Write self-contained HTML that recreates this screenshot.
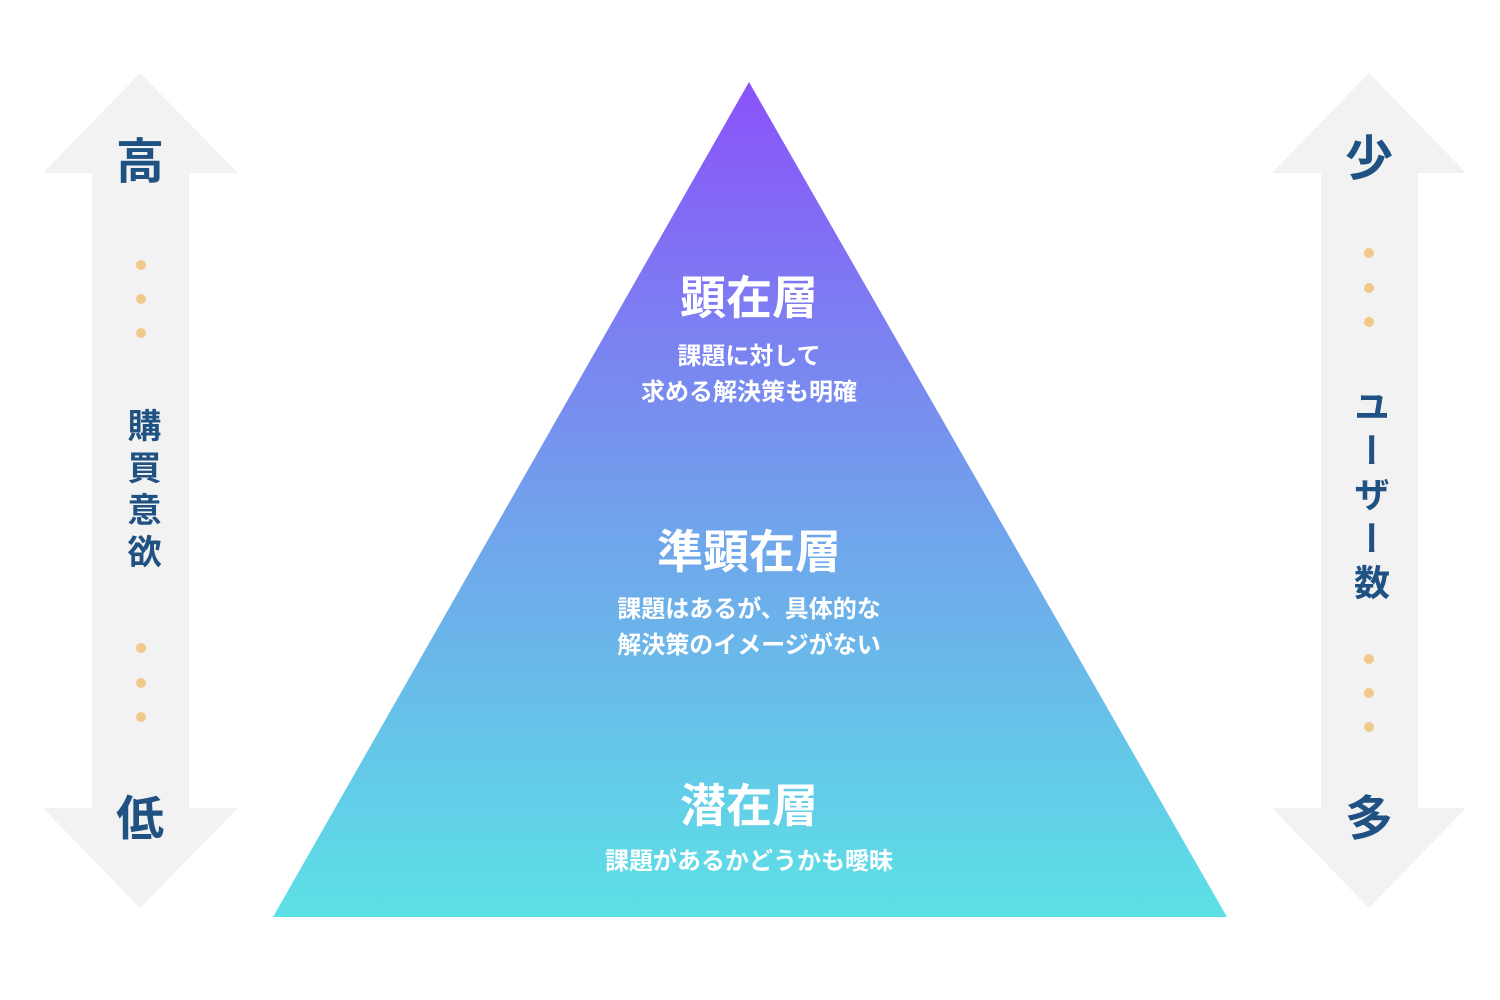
<!DOCTYPE html>
<html><head><meta charset="utf-8"><style>
body{margin:0;width:1500px;height:1000px;background:#fff;position:relative;overflow:hidden;font-family:"Liberation Sans","Noto Sans CJK JP",sans-serif}
.t{position:absolute;transform:translate(-50%,-50%);white-space:nowrap;font-weight:bold;line-height:1}
.w{color:#fff;text-align:center}
.b{color:#1f5283}
.v{writing-mode:vertical-rl;transform:translate(-50%,0);letter-spacing:8px}
</style></head><body>
<svg width="1500" height="1000" style="position:absolute;left:0;top:0">
<defs><linearGradient id="g" x1="0" y1="0" x2="0" y2="1">
<stop offset="0" stop-color="#8a52f9"/><stop offset="0.5" stop-color="#729fec"/><stop offset="1" stop-color="#5ce1e6"/></linearGradient></defs>
<polygon points="140,73 238,173 189,173 189,808 238,808 140,908 43,808 92,808 92,173 43,173" fill="#f2f2f2"/>
<polygon points="1369,73 1466,173 1418,173 1418,808 1466,808 1369,908 1272,808 1321,808 1321,173 1272,173" fill="#f2f2f2"/>
<polygon points="749,82 1227,917 273,917" fill="url(#g)"/>
<g fill="#f0c98a">
<circle cx="141" cy="265" r="5"/><circle cx="141" cy="299" r="5"/><circle cx="141" cy="333" r="5"/>
<circle cx="141" cy="648" r="5"/><circle cx="141" cy="683" r="5"/><circle cx="141" cy="717" r="5"/>
<circle cx="1369" cy="253" r="5"/><circle cx="1369" cy="288" r="5"/><circle cx="1369" cy="322" r="5"/>
<circle cx="1369" cy="659" r="5"/><circle cx="1369" cy="693" r="5"/><circle cx="1369" cy="727" r="5"/>
</g></svg>
<div class="t b" style="left:140px;top:163px;font-size:48px">高</div>
<div class="t b" style="left:140px;top:820px;font-size:48px">低</div>
<div class="t b" style="left:1369px;top:160px;font-size:48px">少</div>
<div class="t b" style="left:1369px;top:820px;font-size:48px">多</div>
<div class="t b v" style="left:141px;top:408px;font-size:34px">購買意欲</div>
<div class="t b v" style="left:1369px;top:388px;font-size:36px;letter-spacing:8px">ユーザー数</div>
<div class="t w" style="left:749px;top:298px;font-size:46px">顕在層</div>
<div class="t w" style="left:749px;top:375px;font-size:24px;line-height:36px">課題に対して<br>求める解決策も明確</div>
<div class="t w" style="left:749px;top:552px;font-size:46px">準顕在層</div>
<div class="t w" style="left:749px;top:628px;font-size:24px;line-height:36px">課題はあるが、具体的な<br>解決策のイメージがない</div>
<div class="t w" style="left:749px;top:806px;font-size:46px">潜在層</div>
<div class="t w" style="left:749px;top:862px;font-size:24px">課題があるかどうかも曖昧</div>
</body></html>
